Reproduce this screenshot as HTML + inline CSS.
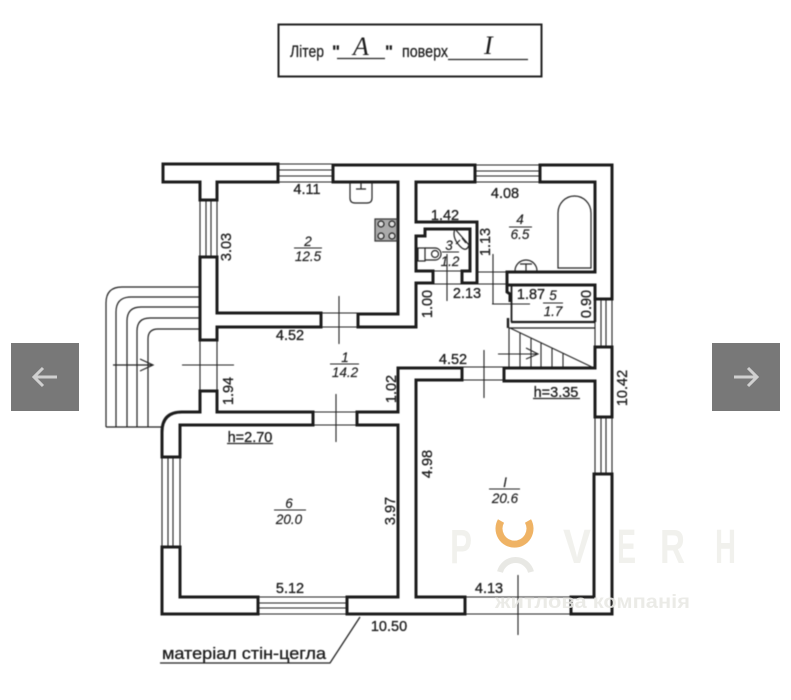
<!DOCTYPE html>
<html>
<head>
<meta charset="utf-8">
<style>
html,body{margin:0;padding:0;background:#fff;width:791px;height:700px;overflow:hidden}
svg{display:block;position:absolute;left:0;top:0}
text{font-family:"Liberation Sans",sans-serif;fill:#1c1c1c}
.d{font-size:14.5px;text-anchor:middle;stroke:#1c1c1c;stroke-width:0.3px}
.r{font-size:13.5px;font-style:italic;text-anchor:middle;stroke:#1c1c1c;stroke-width:0.15px}
.s{font-family:"Liberation Serif",serif;font-style:italic}
.h{font-size:17px;stroke:#1c1c1c;stroke-width:0.25px}
</style>
</head>
<body>
<svg width="791" height="700" viewBox="0 0 791 700" xmlns="http://www.w3.org/2000/svg">
<g style="filter:blur(0.45px)">
<!-- header -->
<rect x="278.5" y="24.5" width="263" height="52" fill="none" stroke="#222" stroke-width="2"/>
<text class="h" x="290" y="57" textLength="34" lengthAdjust="spacingAndGlyphs">Літер</text>
<text class="h" x="332" y="57" font-weight="bold">"</text>
<text class="s" x="353" y="55" font-size="26">A</text>
<text class="h" x="385" y="57" font-weight="bold">"</text>
<text class="h" x="402" y="57" textLength="46" lengthAdjust="spacingAndGlyphs">поверх</text>
<text class="s" x="484" y="54" font-size="26">I</text>
<g stroke="#222" stroke-width="1.3"><line x1="337" y1="58.5" x2="385" y2="58.5"/><line x1="448" y1="59.5" x2="528" y2="59.5"/></g>

<!-- steps -->
<g fill="none" stroke="#222" stroke-width="1.2">
<path d="M200 287H122Q106 287 106 303V427"/>
<path d="M200 297H131Q116 297 116 312V427"/>
<path d="M200 307H141Q127 307 127 321V427"/>
<path d="M200 318H150Q137 318 137 331V427"/>
<path d="M200 329H158Q148 329 148 339V427"/>
<line x1="106" y1="427" x2="165" y2="427"/>
<line x1="113" y1="365" x2="153" y2="365"/>
<path d="M140 359L153 365L140 371"/>
</g>

<!-- windows & door thin lines -->
<g fill="none" stroke="#222" stroke-width="1.1">
<path d="M278 164H333M278 170H333M278 176H333M278 182H333"/>
<path d="M475 165H540M475 171H540M475 176H540M475 182H540"/>
<path d="M200 200V257M206 200V257M211 200V257M217 200V257"/>
<path d="M162 457V547M168 457V547M173 457V547M180 457V547"/>
<path d="M258 597H347M258 603H347M258 608H347M258 614H347"/>
<path d="M595 299V347M601 299V347M606 299V347M612 299V347"/>
<path d="M595 417V474M601 417V474M606 417V474M612 417V474"/>
<path d="M321 313H358M321 327H358"/>
<path d="M200 340V391M217 340V391"/>
<path d="M313 412H357M313 425H357"/>
<path d="M462 367H504M462 380H504"/>
<path d="M465 597H571M465 614H571"/>
<path d="M433 271H462M433 284H462"/>
<path d="M477 272H507M477 284H510"/>
<!-- door axes -->
<path d="M339 296V344M182 365H234M336 394V442M484 350V398M518 575V635"/>
<path d="M447 254V301M493 254V304M492 304H530"/>
<path d="M498 354H538"/>
<path d="M526 348L538 354L526 359"/>
<!-- stairs -->
<path d="M510 328L594 368"/>
<path d="M509 328V368M520 333V368M531 338V368M541 343V368M552 348V368M563 353V368"/>
</g>

<!-- walls -->
<g fill="#fff" stroke="#1c1c1c" stroke-width="3" stroke-linejoin="miter">
<polygon points="163,164 278,164 278,182 217,182 217,200 200,200 200,182 163,182"/>
<polygon points="333,165 475,165 475,182 416,182 416,222 477,222 477,283 462,283 462,271 470,271 470,229 425,229 425,236 416,236 416,271 433,271 433,283 416,283 416,327 358,327 358,314 398,314 398,182 333,182"/>
<polygon points="540,165 612,165 612,299 595,299 595,285 507,285 507,272 595,272 595,182 540,182"/>
<polygon points="595,347 612,347 612,417 595,417 595,381 504,381 504,368 595,368"/>
<polygon points="200,257 217,257 217,313 321,313 321,327 217,327 217,340 200,340"/>
<path d="M180 457H162V432Q162 412 182 412H200V391H217V412H313V425H180Z"/>
<polygon points="398,368 462,368 462,380 416,380 416,597 465,597 465,614 347,614 347,597 398,597 398,425 357,425 357,412 398,412"/>
<polygon points="258,597 258,614 162,614 162,547 180,547 180,597"/>
<polygon points="594,474 612,474 612,614 571,614 571,597 594,597"/>
</g>
<!-- room 5 lighter walls -->
<g fill="none" stroke="#1c1c1c">
<path d="M595 285V322" stroke-width="2.6"/>
<path d="M507 272V292L510 294V302" stroke-width="3"/>
<path d="M511.5 285V322" stroke-width="1.8"/>
<path d="M508 318V328" stroke-width="2.4"/>
<path d="M511 322H595" stroke-width="2.2"/>
<path d="M509 328H595" stroke-width="1.2"/>
</g>

<!-- fixtures -->
<g fill="none" stroke="#222" stroke-width="1.2">
<path d="M350 182V198Q350 203 355 203H367Q372 203 372 198V182"/>
<path d="M361 183V189M356 189H366"/>
<rect x="375" y="219" width="22" height="22" fill="#aaa" stroke="#333"/>
<circle cx="381" cy="224" r="3" fill="#ddd"/><circle cx="392" cy="224" r="3" fill="#ddd"/>
<circle cx="381" cy="236" r="3" fill="#ddd"/><circle cx="392" cy="236" r="3" fill="#ddd"/>
<path d="M558 268V213A16.5 17 0 0 1 591 213V268Z"/>
<path d="M515 271A11 11 0 0 1 537 271"/>
<path d="M520 264H532M526 264V271"/>
<rect x="418" y="248" width="7" height="13"/>
<path d="M425 248H435A6 6 0 0 1 435 260H425"/>
<circle cx="435" cy="254" r="3.5"/>
<path d="M455 229L469 245Q466 254 458 244Q452 236 455 229Z"/>
<path d="M460 240L456 244M462 238L466 243"/>
</g>

<!-- dimensions -->
<g>
<text class="d" x="307" y="194">4.11</text>
<text class="d" x="290" y="340">4.52</text>
<text class="d" x="505" y="198">4.08</text>
<text class="d" x="445" y="220">1.42</text>
<text class="d" x="467" y="298">2.13</text>
<text class="d" x="531" y="299">1.87</text>
<text class="d" x="453" y="364">4.52</text>
<text class="d" x="556" y="397">h=3.35</text>
<text class="d" x="250" y="442">h=2.70</text>
<text class="d" x="290" y="593">5.12</text>
<text class="d" x="389" y="631">10.50</text>
<text class="d" x="489" y="593">4.13</text>
<text class="d" transform="translate(231 247) rotate(-90)">3.03</text>
<text class="d" transform="translate(233 391) rotate(-90)">1.94</text>
<text class="d" transform="translate(432 304) rotate(-90)">1.00</text>
<text class="d" transform="translate(396 389) rotate(-90)">1.02</text>
<text class="d" transform="translate(490 242) rotate(-90)">1.13</text>
<text class="d" transform="translate(591 304) rotate(-90)">0.90</text>
<text class="d" transform="translate(627 388) rotate(-90)">10.42</text>
<text class="d" transform="translate(432 464) rotate(-90)">4.98</text>
<text class="d" transform="translate(395 511) rotate(-90)">3.97</text>
</g>
<g stroke="#222" stroke-width="1.3" fill="none">
<line x1="533" y1="398.5" x2="580" y2="398.5"/>
<line x1="227" y1="443.5" x2="273" y2="443.5"/>
<path d="M160 663H330L360 617"/>
</g>
<text x="162" y="659" font-size="17" textLength="164" lengthAdjust="spacingAndGlyphs" stroke="#1c1c1c" stroke-width="0.3">матеріал стін-цегла</text>

<!-- room labels -->
<g stroke="#222" stroke-width="1.1">
<line x1="294" y1="248" x2="322" y2="248"/>
<line x1="330" y1="364" x2="359" y2="364"/>
<line x1="509" y1="227" x2="532" y2="227"/>
<line x1="442" y1="252" x2="459" y2="252"/>
<line x1="543" y1="303" x2="563" y2="303"/>
<line x1="274" y1="510" x2="306" y2="510"/>
<line x1="489" y1="489" x2="520" y2="489"/>
</g>
<text class="r" x="308" y="246">2</text><text class="r" x="308" y="261">12.5</text>
<text class="r" x="345" y="362">1</text><text class="r" x="345" y="377">14.2</text>
<text class="r" x="520" y="224">4</text><text class="r" x="520" y="239">6.5</text>
<text class="r" x="449" y="250">3</text><text class="r" x="450" y="266">1.2</text>
<text class="r" x="553" y="300">5</text><text class="r" x="553" y="316">1.7</text>
<text class="r" x="289" y="508">6</text><text class="r" x="289" y="524">20.0</text>
<text class="r" x="505" y="487">I</text><text class="r" x="505" y="503">20.6</text>
</g>

<!-- watermark -->
<g>
<g style="font-family:'Liberation Sans',sans-serif;fill:#f1f1ed" font-weight="bold" font-size="48">
<text x="450" y="563" textLength="22" lengthAdjust="spacingAndGlyphs" style="fill:#f1f1ed">P</text>
<text x="563" y="563" textLength="28" lengthAdjust="spacingAndGlyphs" style="fill:#f1f1ed">V</text>
<text x="617" y="563" textLength="19" lengthAdjust="spacingAndGlyphs" style="fill:#f1f1ed">E</text>
<text x="660" y="563" textLength="25" lengthAdjust="spacingAndGlyphs" style="fill:#f1f1ed">R</text>
<text x="715" y="563" textLength="21" lengthAdjust="spacingAndGlyphs" style="fill:#f1f1ed">H</text>
</g>
<text x="495" y="608" font-size="19" font-weight="bold" textLength="195" lengthAdjust="spacingAndGlyphs" style="fill:#e9e9e5;opacity:.9">житлова компанія</text>
<path d="M501 521A15.5 15.5 0 1 0 528 521" fill="none" stroke="#efb365" stroke-width="7"/>
<path d="M500 572A16 16 0 0 1 531 572" fill="none" stroke="#e8e8e4" stroke-width="6"/>
</g>

<!-- nav -->
<rect x="11" y="343" width="68" height="68" fill="#787878"/>
<rect x="712" y="343" width="68" height="68" fill="#787878"/>
<g fill="none" stroke="#d0d0d0" stroke-width="3">
<path d="M34 377H57M43 368L34 377L43 386"/>
<path d="M757 377H734M748 368L757 377L748 386"/>
</g>
</svg>
</body>
</html>
